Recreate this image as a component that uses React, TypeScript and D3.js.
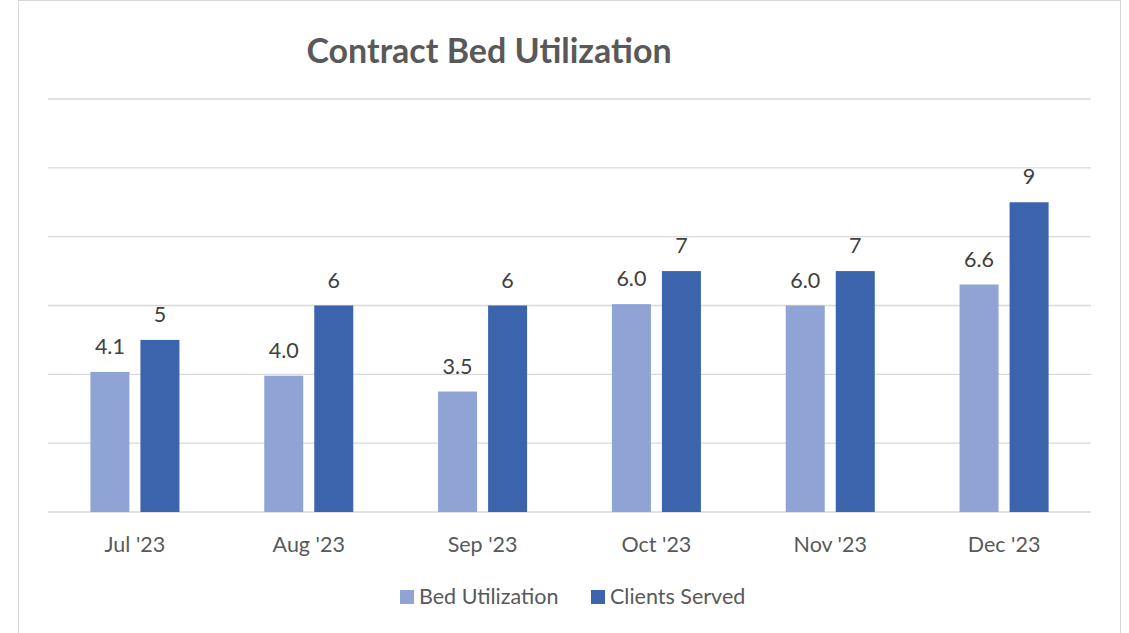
import React from 'react';
import * as d3 from 'd3';

const months = ["Jul '23", "Aug '23", "Sep '23", "Oct '23", "Nov '23", "Dec '23"];
const bedUtilization = [4.07, 3.96, 3.5, 6.04, 6.0, 6.61];
const bedLabels = ['4.1', '4.0', '3.5', '6.0', '6.0', '6.6'];
const clientsServed = [5, 6, 6, 7, 7, 9];
const seriesNames = ['Bed Utilization', 'Clients Served'];
const yTicks = [0, 2, 4, 6, 8, 10, 12];

const W = 1129;
const H = 633;
const colors = ['#8FA4D4', '#3B64AD'];
const font = 'Lato, "Open Sans", sans-serif';

export default function App() {
    const x = d3.scaleBand().domain(months).range([48, 1091]).paddingInner(0).paddingOuter(0);
    const inner = d3.scaleBand().domain(seriesNames).range([42.4, x.bandwidth() - 42.4]).paddingInner(0.22);
    const y = d3.scaleLinear().domain([0, 12]).range([512, 99]);

    const series = [
        months.map((m, i) => ({ m, v: bedUtilization[i], label: bedLabels[i] })),
        months.map((m, i) => ({ m, v: clientsServed[i], label: String(clientsServed[i]) })),
    ];

    return (
        <svg width={W} height={H} style={{ position: 'fixed', left: 0, top: 0, background: '#fff' }}>
            <rect x={18.5} y={0.5} width={1102} height={700} fill="#fff" stroke="#D9D9D9" />
            <text x={489} y={63} textAnchor="middle" fontFamily={font} fontWeight="bold" fontSize={34} fill="#595959">
                Contract Bed Utilization
            </text>
            {yTicks.map(t => (
                <line key={t} x1={48} x2={1091} y1={y(t)} y2={y(t)} stroke="#D9D9D9" strokeWidth={1.3} />
            ))}
            {series.map((s, si) => (
                <g key={si}>
                    {s.map(d => {
                        const bx = (x(d.m) || 0) + (inner(seriesNames[si]) || 0);
                        return (
                            <g key={d.m}>
                                <rect x={bx} y={y(d.v)} width={inner.bandwidth()} height={y(0) - y(d.v)} fill={colors[si]} />
                                <text x={bx + inner.bandwidth() / 2} y={y(d.v) - 18} textAnchor="middle"
                                    fontFamily={font} fontSize={21.5} fill="#404040">{d.label}</text>
                            </g>
                        );
                    })}
                </g>
            ))}
            {months.map(m => (
                <text key={m} x={(x(m) || 0) + x.bandwidth() / 2} y={552} textAnchor="middle"
                    fontFamily={font} fontSize={21.5} fill="#595959">{m}</text>
            ))}
            <g>
                <rect x={400} y={590} width={14} height={14} fill={colors[0]} />
                <text x={419} y={604} fontFamily={font} fontSize={21.5} fill="#595959">{seriesNames[0]}</text>
                <rect x={591} y={590} width={14} height={14} fill={colors[1]} />
                <text x={610} y={604} fontFamily={font} fontSize={21.5} fill="#595959">{seriesNames[1]}</text>
            </g>
        </svg>
    );
}
